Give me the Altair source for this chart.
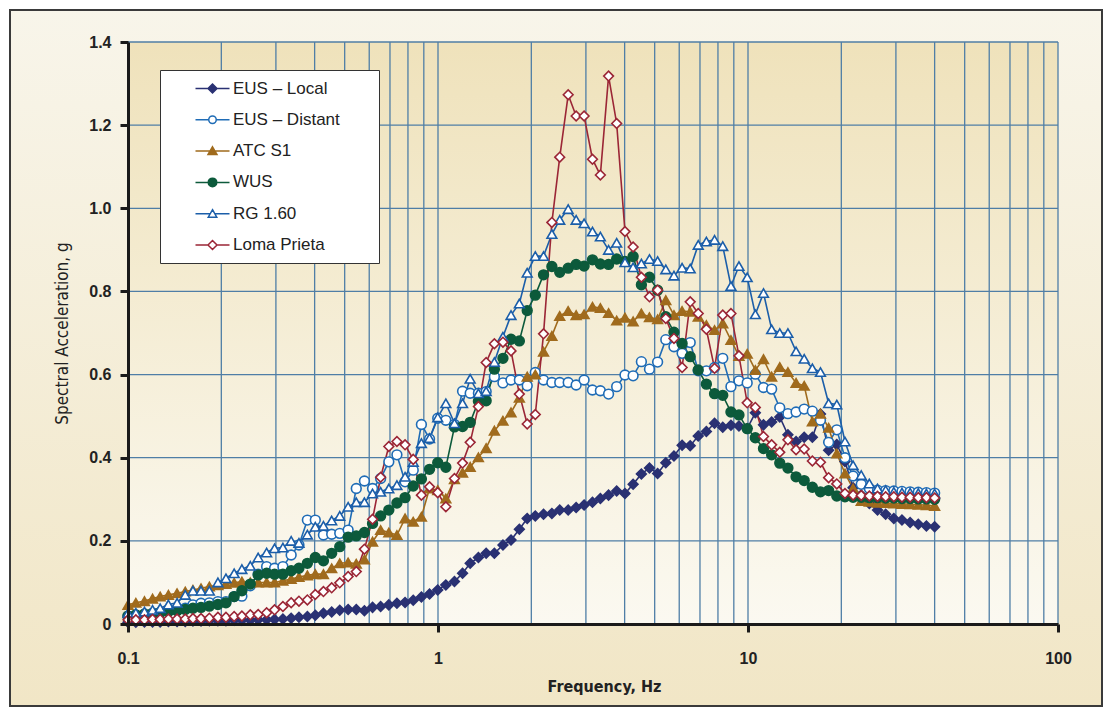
import altair as alt
import pandas as pd

# ---------------- data ----------------
FREQ = [0.100, 0.106, 0.113, 0.120, 0.127, 0.135, 0.144, 0.153, 0.162, 0.172,
        0.183, 0.195, 0.207, 0.220, 0.233, 0.248, 0.263, 0.280, 0.297, 0.316,
        0.336, 0.356, 0.379, 0.402, 0.427, 0.454, 0.482, 0.513, 0.545, 0.579,
        0.615, 0.653, 0.694, 0.737, 0.783, 0.832, 0.884, 0.939, 0.998, 1.06,
        1.13, 1.20, 1.27, 1.35, 1.43, 1.52, 1.62, 1.72, 1.83, 1.94,
        2.06, 2.19, 2.33, 2.47, 2.63, 2.79, 2.96, 3.15, 3.34, 3.55,
        3.77, 4.01, 4.26, 4.53, 4.81, 5.11, 5.43, 5.77, 6.13, 6.51,
        6.91, 7.34, 7.80, 8.29, 8.81, 9.35, 9.94, 10.56, 11.22, 11.92,
        12.66, 13.45, 14.29, 15.18, 16.13, 17.13, 18.20, 19.34, 20.55, 21.83,
        23.19, 24.63, 26.17, 27.80, 29.54, 31.38, 33.34, 35.42, 37.63, 40.0]

EUS_LOCAL = [0.004, 0.004, 0.005, 0.005, 0.005, 0.006, 0.006, 0.006, 0.007, 0.007,
             0.008, 0.008, 0.008, 0.009, 0.009, 0.009, 0.010, 0.010, 0.011, 0.012,
             0.014, 0.016, 0.018, 0.021, 0.026, 0.029, 0.033, 0.035, 0.035, 0.032,
             0.040, 0.042, 0.046, 0.050, 0.052, 0.057, 0.065, 0.072, 0.082, 0.094,
             0.102, 0.122, 0.146, 0.160, 0.170, 0.170, 0.190, 0.202, 0.228, 0.254,
             0.260, 0.264, 0.266, 0.274, 0.274, 0.280, 0.286, 0.293, 0.302, 0.310,
             0.320, 0.314, 0.336, 0.361, 0.375, 0.362, 0.388, 0.404, 0.430, 0.429,
             0.452, 0.463, 0.483, 0.473, 0.478, 0.476, 0.470, 0.508, 0.479, 0.486,
             0.498, 0.455, 0.439, 0.449, 0.449, 0.505, 0.418, 0.432, 0.391, 0.328,
             0.310, 0.290, 0.274, 0.264, 0.254, 0.250, 0.244, 0.240, 0.236, 0.234]

EUS_DISTANT = [0.019, 0.021, 0.023, 0.025, 0.028, 0.031, 0.034, 0.038, 0.046, 0.050,
               0.051, 0.054, 0.054, 0.066, 0.067, 0.092, 0.120, 0.138, 0.134, 0.138,
               0.166, 0.190, 0.250, 0.250, 0.214, 0.216, 0.218, 0.226, 0.326, 0.344,
               0.326, 0.350, 0.390, 0.407, 0.342, 0.370, 0.480, 0.445, 0.495, 0.490,
               0.480, 0.560, 0.555, 0.555, 0.559, 0.595, 0.580, 0.587, 0.587, 0.573,
               0.605, 0.587, 0.581, 0.581, 0.581, 0.575, 0.587, 0.563, 0.561, 0.553,
               0.571, 0.599, 0.597, 0.631, 0.613, 0.630, 0.684, 0.667, 0.651, 0.677,
               0.609, 0.609, 0.617, 0.639, 0.571, 0.585, 0.580, 0.601, 0.569, 0.565,
               0.520, 0.506, 0.510, 0.517, 0.512, 0.490, 0.437, 0.467, 0.400, 0.356,
               0.336, 0.326, 0.322, 0.321, 0.320, 0.319, 0.318, 0.317, 0.316, 0.315]

ATC_S1 = [0.046, 0.051, 0.055, 0.061, 0.066, 0.070, 0.074, 0.078, 0.082, 0.086,
          0.090, 0.093, 0.096, 0.099, 0.102, 0.100, 0.100, 0.100, 0.100, 0.104,
          0.108, 0.113, 0.117, 0.120, 0.120, 0.134, 0.146, 0.148, 0.145, 0.155,
          0.198, 0.226, 0.220, 0.214, 0.254, 0.246, 0.258, 0.326, 0.322, 0.302,
          0.348, 0.364, 0.378, 0.401, 0.423, 0.465, 0.489, 0.509, 0.544, 0.595,
          0.600, 0.655, 0.693, 0.741, 0.753, 0.743, 0.745, 0.763, 0.760, 0.748,
          0.730, 0.737, 0.728, 0.747, 0.738, 0.733, 0.779, 0.743, 0.753, 0.751,
          0.739, 0.719, 0.707, 0.723, 0.683, 0.645, 0.650, 0.611, 0.637, 0.595,
          0.618, 0.606, 0.580, 0.573, 0.487, 0.506, 0.472, 0.410, 0.362, 0.326,
          0.296, 0.294, 0.292, 0.291, 0.290, 0.289, 0.288, 0.287, 0.286, 0.284]

WUS = [0.019, 0.022, 0.024, 0.026, 0.027, 0.030, 0.032, 0.035, 0.038, 0.040,
       0.043, 0.047, 0.051, 0.066, 0.080, 0.096, 0.118, 0.122, 0.120, 0.120,
       0.128, 0.134, 0.146, 0.160, 0.152, 0.170, 0.186, 0.209, 0.212, 0.220,
       0.242, 0.260, 0.274, 0.291, 0.304, 0.332, 0.349, 0.372, 0.388, 0.377,
       0.474, 0.475, 0.485, 0.536, 0.537, 0.613, 0.639, 0.685, 0.681, 0.754,
       0.791, 0.840, 0.860, 0.846, 0.856, 0.865, 0.861, 0.876, 0.866, 0.865,
       0.878, 0.872, 0.884, 0.816, 0.834, 0.803, 0.739, 0.702, 0.675, 0.643,
       0.611, 0.577, 0.554, 0.550, 0.510, 0.503, 0.470, 0.448, 0.422, 0.407,
       0.387, 0.375, 0.354, 0.345, 0.329, 0.318, 0.321, 0.308, 0.306, 0.305,
       0.305, 0.304, 0.304, 0.303, 0.303, 0.302, 0.302, 0.301, 0.301, 0.300]

RG_160 = [0.026, 0.027, 0.030, 0.034, 0.038, 0.047, 0.051, 0.070, 0.080, 0.080,
          0.080, 0.100, 0.110, 0.122, 0.132, 0.140, 0.160, 0.172, 0.182, 0.184,
          0.200, 0.195, 0.215, 0.234, 0.236, 0.249, 0.260, 0.282, 0.293, 0.293,
          0.314, 0.318, 0.326, 0.334, 0.354, 0.390, 0.435, 0.447, 0.497, 0.531,
          0.483, 0.531, 0.590, 0.555, 0.560, 0.630, 0.691, 0.743, 0.771, 0.845,
          0.885, 0.885, 0.938, 0.972, 0.998, 0.972, 0.964, 0.944, 0.932, 0.900,
          0.917, 0.870, 0.858, 0.867, 0.878, 0.873, 0.853, 0.838, 0.857, 0.855,
          0.912, 0.920, 0.924, 0.909, 0.813, 0.861, 0.834, 0.745, 0.796, 0.709,
          0.700, 0.700, 0.656, 0.638, 0.615, 0.606, 0.531, 0.528, 0.439, 0.382,
          0.358, 0.338, 0.326, 0.322, 0.318, 0.316, 0.316, 0.315, 0.314, 0.314]

LOMA_PRIETA = [0.010, 0.010, 0.010, 0.011, 0.011, 0.012, 0.012, 0.012, 0.013, 0.013,
               0.014, 0.016, 0.016, 0.018, 0.019, 0.022, 0.023, 0.027, 0.034, 0.042,
               0.051, 0.055, 0.058, 0.071, 0.078, 0.087, 0.099, 0.114, 0.126, 0.180,
               0.252, 0.353, 0.427, 0.439, 0.431, 0.396, 0.310, 0.330, 0.316, 0.282,
               0.350, 0.387, 0.437, 0.523, 0.629, 0.674, 0.678, 0.657, 0.553, 0.481,
               0.504, 0.698, 0.966, 1.123, 1.273, 1.222, 1.222, 1.118, 1.080, 1.318,
               1.204, 0.944, 0.907, 0.834, 0.787, 0.803, 0.735, 0.687, 0.617, 0.775,
               0.747, 0.709, 0.615, 0.743, 0.747, 0.645, 0.532, 0.521, 0.451, 0.431,
               0.413, 0.443, 0.419, 0.421, 0.392, 0.389, 0.352, 0.337, 0.314, 0.310,
               0.309, 0.308, 0.307, 0.306, 0.306, 0.305, 0.305, 0.304, 0.304, 0.303]

SERIES = ["EUS – Local", "EUS – Distant", "ATC S1", "WUS", "RG 1.60", "Loma Prieta"]
VALUES = [EUS_LOCAL, EUS_DISTANT, ATC_S1, WUS, RG_160, LOMA_PRIETA]

X_GRID = [0.1, 0.2, 0.3, 0.4, 0.5, 0.6, 0.7, 0.8, 0.9,
          1, 2, 3, 4, 5, 6, 7, 8, 9,
          10, 20, 30, 40, 50, 60, 70, 80, 90, 100]
X_LABELS = [0.1, 1, 10, 100]
Y_TICKS = [0, 0.2, 0.4, 0.6, 0.8, 1.0, 1.2, 1.4]

# ---------------- styles ----------------
STROKES = ["#2a3173", "#1f6cb6", "#a06b1d", "#0c5a3b", "#1b5ea9", "#9b2636"]
FILLS = ["#2a3173", "#ffffff", "#a06b1d", "#0c5a3b", "#ffffff", "#ffffff"]
SHAPES = ["diamond", "circle", "triangle-up", "circle", "triangle-up", "diamond"]
LEG_PATHS = [
    "M-3.4,0H3.4M0,-0.9L0.9,0L0,0.9L-0.9,0Z",
    "M-3.4,0H-0.75M0.75,0H3.4M-0.75,0A0.75,0.75,0,1,0,0.75,0A0.75,0.75,0,1,0,-0.75,0Z",
    "M-3.4,0H3.4M0,-0.85L0.9,0.7L-0.9,0.7Z",
    "M-3.4,0H3.4M-0.85,0A0.85,0.85,0,1,0,0.85,0A0.85,0.85,0,1,0,-0.85,0Z",
    "M-3.4,0H-0.45M0.45,0H3.4M0,-0.8L0.85,0.7L-0.85,0.7Z",
    "M-3.4,0H-0.9M0.9,0H3.4M0,-0.9L0.9,0L0,0.9L-0.9,0Z",
]
GRID = "#4f7ea6"
INK = "#1a1a1a"
FONT = "Liberation Sans, Arial, sans-serif"
NARROW = "Liberation Sans Narrow, DejaVu Sans Condensed, sans-serif"

rows = []
for name, vals in zip(SERIES, VALUES):
    for f, v in zip(FREQ, vals):
        rows.append({"series": name, "freq": f, "sa": v})
df = pd.DataFrame(rows)

W, H = 930, 582
xscale = alt.Scale(type="log", domain=[0.1, 100], nice=False)
yscale = alt.Scale(domain=[0, 1.4], nice=False)

X_AX = alt.Axis(
    title="Frequency, Hz", values=X_LABELS, grid=False, format="~g",
    tickSize=8, tickWidth=3, tickColor=INK, domainColor=INK, domainWidth=3,
    labelFont=FONT, labelFontSize=16, labelFontWeight="bold", labelColor="#222222",
    labelPadding=18, labelFlush=False, labelOverlap=False,
    titleFont=NARROW, titleFontSize=16, titleFontWeight="bold", titleColor="#222222",
    titleX=476, titleY=62, titleBaseline="middle", titleAlign="center", zindex=2,
)
Y_AX = alt.Axis(
    title="Spectral Acceleration, g", values=Y_TICKS, grid=False,
    labelExpr="datum.value == 0 ? '0' : format(datum.value, '.1f')",
    tickSize=8, tickWidth=3, tickColor=INK, domainColor=INK, domainWidth=3,
    labelFont=FONT, labelFontSize=16, labelFontWeight="bold", labelColor="#222222",
    labelPadding=9, labelOverlap=False,
    titleFont=NARROW, titleFontSize=17, titleFontWeight="normal", titleColor="#222222",
    titleX=-66, titleY=291, titleAngle=270, titleBaseline="middle", titleAlign="center",
    zindex=2,
)

X = alt.X("freq:Q", scale=xscale, axis=X_AX)
Y = alt.Y("sa:Q", scale=yscale, axis=Y_AX)

one = alt.Data(values=[{}])

outer = alt.Chart(one).mark_rect(
    fill=alt.LinearGradient(
        gradient="linear", x1=0, y1=0, x2=0, y2=1,
        stops=[alt.GradientStop(color="#f8f5ea", offset=0),
               alt.GradientStop(color="#f1e6c6", offset=1)]),
    stroke="#3a3a3a", strokeWidth=2,
).encode(x=alt.value(-118), x2=alt.value(974), y=alt.value(-32), y2=alt.value(664))

plot_bg = alt.Chart(one).mark_rect(
    fill=alt.LinearGradient(
        gradient="linear", x1=0, y1=0, x2=0, y2=1,
        stops=[alt.GradientStop(color="#efe2bb", offset=0),
               alt.GradientStop(color="#fbf9f1", offset=1)]),
).encode(x=alt.value(0), x2=alt.value("width"), y=alt.value(0), y2=alt.value("height"))

xgrid = alt.Chart(pd.DataFrame({"freq": X_GRID})).mark_rule(
    color=GRID, strokeWidth=1.3
).encode(x=X)

ygrid = alt.Chart(pd.DataFrame({"sa": Y_TICKS})).mark_rule(
    color=GRID, strokeWidth=1.3
).encode(y=Y)

lines = alt.Chart(df).mark_line(strokeWidth=1.6).encode(
    x=X, y=Y,
    stroke=alt.Stroke("series:N", scale=alt.Scale(domain=SERIES, range=STROKES), legend=None),
)

points = alt.Chart(df).mark_point(filled=True, size=95, strokeWidth=1.6, opacity=1).encode(
    x=X, y=Y,
    shape=alt.Shape("series:N", scale=alt.Scale(domain=SERIES, range=SHAPES), legend=None),
    fill=alt.Fill("series:N", scale=alt.Scale(domain=SERIES, range=FILLS), legend=None),
    stroke=alt.Stroke("series:N", scale=alt.Scale(domain=SERIES, range=STROKES), legend=None),
)

# trailing non-breaking spaces kept alive by a zero-width char (Vega trims whitespace)
PAD = "\u00a0" * 6 + "\u200b"
LEG = alt.Legend(
    title=None, orient="none", legendX=32, legendY=28,
    fillColor="#ffffff", strokeColor="#333333", padding=10, rowPadding=13.3,
    symbolSize=100, symbolStrokeWidth=1.5, symbolOffset=34, labelOffset=12,
    labelFont=FONT, labelFontSize=17, labelColor="#222222",
    labelExpr="datum.label + '" + PAD + "'",
)

legend_layer = alt.Chart(df).transform_filter("false").mark_point(
    filled=True, strokeWidth=1.5, opacity=1
).encode(
    shape=alt.Shape("series:N", scale=alt.Scale(domain=SERIES, range=LEG_PATHS), legend=LEG),
    fill=alt.Fill("series:N", scale=alt.Scale(domain=SERIES, range=FILLS), legend=LEG),
    stroke=alt.Stroke("series:N", scale=alt.Scale(domain=SERIES, range=STROKES), legend=LEG),
)

chart = alt.layer(
    outer, plot_bg, xgrid, ygrid, lines, points, legend_layer
).resolve_scale(
    shape="independent", fill="independent", stroke="independent"
).properties(
    width=W, height=H,
    autosize=alt.AutoSizeParams(type="none"),
    padding={"left": 120, "top": 34, "right": 47, "bottom": 84},
).configure(background="#ffffff").configure_view(strokeWidth=0)

chart.save("out.html", embed_options={"renderer": "svg", "actions": False})
